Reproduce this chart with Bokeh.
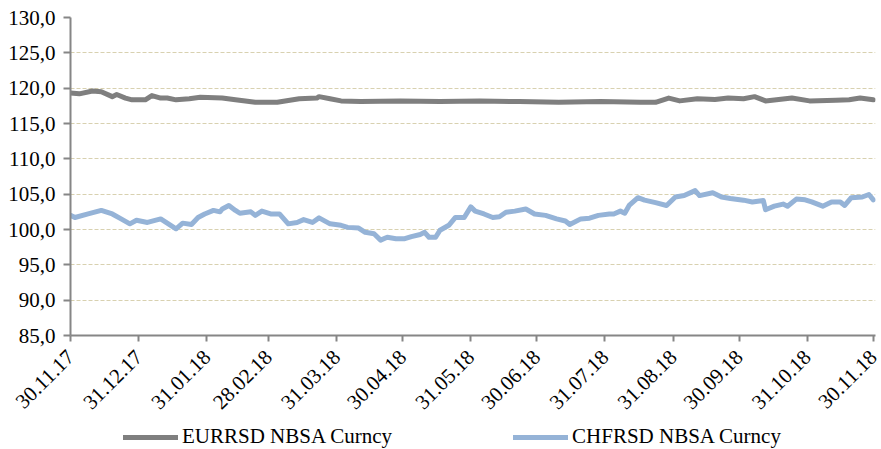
import math
import pandas as pd
from bokeh.plotting import figure
from bokeh.layouts import column
from bokeh.models import Range1d, FixedTicker, Legend, LegendItem, ColumnDataSource
from bokeh.embed import file_html
from bokeh.resources import INLINE

# ---- data ----
start_date = "2017-11-30"

eur_day = [0, 4, 10, 14, 19, 21, 25, 28, 34, 37, 41, 44, 48, 54, 59, 69, 75, 84, 94, 104,
           112, 113, 118, 123, 132, 150, 168, 186, 204, 222, 241, 259, 266, 272, 277, 285,
           293, 299, 306, 311, 316, 321, 328, 336, 348, 354, 359, 365]
eur_val = [119.3, 119.2, 119.6, 119.5, 118.8, 119.1, 118.6, 118.35, 118.35, 118.95, 118.6, 118.6,
           118.35, 118.5, 118.7, 118.6, 118.35, 118.0, 118.0, 118.5, 118.6, 118.8, 118.5, 118.2,
           118.1, 118.2, 118.1, 118.2, 118.1, 118.0, 118.1, 118.0, 118.0, 118.6, 118.2, 118.5,
           118.4, 118.6, 118.5, 118.8, 118.2, 118.35, 118.6, 118.2, 118.3, 118.35, 118.6, 118.35]

chf_day = [0, 2, 8, 14, 19, 23, 27, 30, 35, 41, 48, 51, 55, 58, 61, 65, 68, 69, 72, 75, 77,
           82, 84, 87, 91, 95, 99, 103, 106, 110, 113, 118, 123, 126, 131, 134, 138, 141, 144,
           148, 152, 155, 159, 161, 163, 166, 168, 172, 175, 179, 182, 184, 188, 192, 195, 198,
           202, 207, 211, 216, 221, 225, 227, 232, 236, 240, 245, 247, 250, 252, 254, 258, 261,
           266, 271, 275, 279, 284, 286, 292, 296, 300, 306, 310, 315, 316, 320, 324, 326, 330,
           334, 337, 342, 346, 350, 352, 355, 360, 363, 365]
chf_val = [102.0, 101.7, 102.2, 102.7, 102.2, 101.5, 100.8, 101.3, 101.0, 101.5, 100.1, 100.9,
           100.7, 101.7, 102.2, 102.7, 102.5, 102.9, 103.4, 102.7, 102.3, 102.5, 102.0, 102.6,
           102.2, 102.2, 100.8, 101.0, 101.4, 101.0, 101.65, 100.8, 100.6, 100.3, 100.2, 99.6,
           99.4, 98.5, 98.9, 98.7, 98.7, 99.0, 99.3, 99.6, 98.9, 98.9, 99.9, 100.6, 101.7, 101.7,
           103.2, 102.6, 102.2, 101.7, 101.8, 102.45, 102.6, 102.9, 102.2, 102.0, 101.5, 101.2,
           100.7, 101.5, 101.6, 102.0, 102.2, 102.2, 102.6, 102.3, 103.4, 104.5, 104.15, 103.8,
           103.4, 104.6, 104.8, 105.5, 104.8, 105.2, 104.6, 104.4, 104.15, 103.9, 104.1, 102.8,
           103.3, 103.6, 103.3, 104.3, 104.2, 103.9, 103.3, 103.9, 103.9, 103.4, 104.5, 104.6,
           104.95, 104.2]

x_tick_dates = ["2017-11-30", "2017-12-31", "2018-01-31", "2018-02-28", "2018-03-31",
                "2018-04-30", "2018-05-31", "2018-06-30", "2018-07-31", "2018-08-31",
                "2018-09-30", "2018-10-31", "2018-11-30"]
x_tick_labels = ["30.11.17", "31.12.17", "31.01.18", "28.02.18", "31.03.18", "30.04.18",
                 "31.05.18", "30.06.18", "31.07.18", "31.08.18", "30.09.18", "31.10.18",
                 "30.11.18"]
y_ticks = [85, 90, 95, 100, 105, 110, 115, 120, 125, 130]
y_tick_labels = ["85,0", "90,0", "95,0", "100,0", "105,0", "110,0", "115,0", "120,0",
                 "125,0", "130,0"]
series_names = ["EURRSD NBSA Curncy", "CHFRSD NBSA Curncy"]
series_colors = ["#7f7f7f", "#95b3d7"]

# ---- build ----
t0 = pd.Timestamp(start_date)
x_ticks = [int((pd.Timestamp(d) - t0).days) for d in x_tick_dates]

FONT = "Liberation Serif"
LINE_W = 5

p = figure(width=881, height=419, output_backend="svg", toolbar_location=None,
           x_range=Range1d(0, 366), y_range=Range1d(85, 130),
           min_border_left=70, min_border_right=6, min_border_top=17, min_border_bottom=84)
p.outline_line_color = None
p.background_fill_color = "white"
p.border_fill_color = "white"

src_eur = ColumnDataSource(dict(x=eur_day, y=eur_val))
src_chf = ColumnDataSource(dict(x=chf_day, y=chf_val))
p.line("x", "y", source=src_eur, line_color=series_colors[0], line_width=LINE_W,
       line_cap="round", line_join="round")
p.line("x", "y", source=src_chf, line_color=series_colors[1], line_width=LINE_W,
       line_cap="round", line_join="round")

# axes
for ax in (p.xaxis[0], p.yaxis[0]):
    ax.axis_line_color = "#868686"
    ax.axis_line_width = 2
    ax.major_tick_line_color = "#868686"
    ax.major_tick_line_width = 2
    ax.minor_tick_line_color = None
    ax.major_tick_in = 0
    ax.major_label_text_font = FONT
    ax.major_label_text_font_size = "21px"
    ax.major_label_text_color = "black"

p.yaxis.ticker = FixedTicker(ticks=y_ticks)
p.yaxis.major_label_overrides = {v: s for v, s in zip(y_ticks, y_tick_labels)}
p.yaxis.major_tick_out = 7
p.yaxis.major_label_standoff = 8

p.xaxis.ticker = FixedTicker(ticks=x_ticks)
p.xaxis.major_label_overrides = {v: s for v, s in zip(x_ticks, x_tick_labels)}
p.xaxis.major_tick_out = 6
p.xaxis.major_label_standoff = 12
p.xaxis.major_label_orientation = math.pi / 4

p.xgrid.grid_line_color = None
p.ygrid.ticker = FixedTicker(ticks=y_ticks)
p.ygrid.grid_line_color = "#d8d1b0"
p.ygrid.grid_line_dash = "4 2"
p.ygrid.grid_line_width = 1

# ---- legend strip (separate figure under the chart) ----
pl = figure(width=881, height=30, output_backend="svg", toolbar_location=None,
            x_axis_type=None, y_axis_type=None, x_range=Range1d(0, 1), y_range=Range1d(0, 1),
            min_border_left=0, min_border_right=0, min_border_top=0, min_border_bottom=0)
pl.outline_line_color = None
pl.xgrid.grid_line_color = None
pl.ygrid.grid_line_color = None
nan = float("nan")
lg_eur = pl.line(x=[nan], y=[nan], line_color=series_colors[0], line_width=LINE_W,
                 line_cap="round")
lg_chf = pl.line(x=[nan], y=[nan], line_color=series_colors[1], line_width=LINE_W,
                 line_cap="round")

legend = Legend(items=[LegendItem(label=series_names[0], renderers=[lg_eur]),
                       LegendItem(label=series_names[1], renderers=[lg_chf])],
                orientation="horizontal", location=(53, 0))
legend.label_text_font = FONT
legend.label_text_font_size = "21px"
legend.label_text_color = "black"
legend.glyph_width = 55
legend.glyph_height = 20
legend.label_standoff = 4
legend.spacing = 121
legend.padding = 0
legend.margin = 0
legend.border_line_color = None
legend.background_fill_alpha = 0
pl.add_layout(legend, "center")

layout = column(p, pl, spacing=0)
open("out.html", "w").write(file_html(layout, INLINE))
